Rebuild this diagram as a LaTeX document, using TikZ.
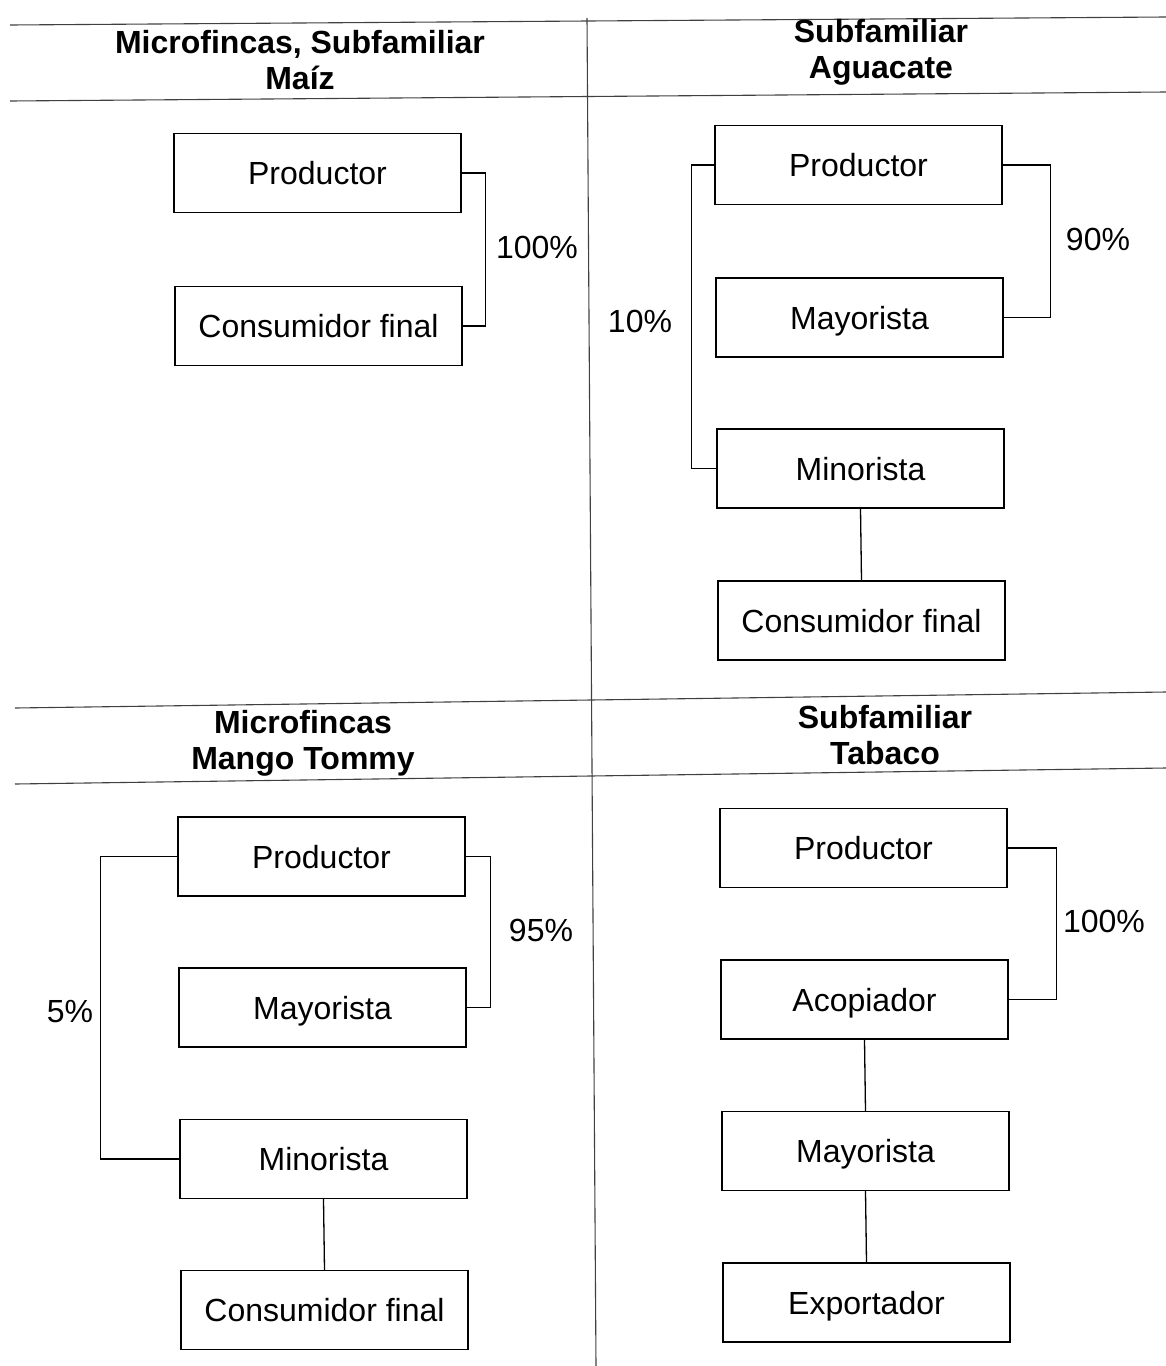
\documentclass[tikz,border=0pt]{standalone}
\usepackage{fontspec}
\setmainfont{Liberation Sans}
\begin{document}
\begin{tikzpicture}[x=1pt,y=-1pt,
  stagebox/.style={draw, line width=1.3pt, minimum width=287pt, minimum height=79pt, inner sep=0pt, text height=23pt, text depth=0pt, font=\fontsize{32}{36}\selectfont},
  titletext/.style={align=center, font=\bfseries\fontsize{32}{36}\selectfont},
  pct/.style={font=\fontsize{32}{36}\selectfont},
  link/.style={line width=1.3pt},
  rule/.style={line width=1.1pt, draw=black!75}]
\useasboundingbox (0,0) rectangle (1166,1366);
% rules
\coordinate (t1) at (10,25); \coordinate (t2) at (1166,17);
\coordinate (h1) at (10,101); \coordinate (h2) at (1166,92);
\coordinate (m1) at (15,708); \coordinate (m2) at (1166,692);
\coordinate (g1) at (15,784); \coordinate (g2) at (1166,768);
\coordinate (v1) at (587,18); \coordinate (v2) at (596,1366);
\draw[rule] (t1) -- (t2);
\draw[rule] (h1) -- (h2);
\draw[rule] (m1) -- (m2);
\draw[rule] (g1) -- (g2);
\draw[rule] (v1) -- (v2);
% titles
\node[titletext] (T1) at (300,60) {Microfincas, Subfamiliar\\Maíz};
\node[titletext] (T2) at (881,52) {Subfamiliar\\Aguacate};
\node[titletext] (T3) at (303,743) {Microfincas\\Mango Tommy};
\node[titletext] (T4) at (885,735) {Subfamiliar\\Tabaco};
% Q1
\node[stagebox] (p1) at (317.5,173) {Productor};
\node[stagebox] (c1) at (318.5,326) {Consumidor final};
\draw[link] (p1.east) -- ++(24,0) |- (c1.east);
\node[pct] (l1) at (537,247) {100\%};
% Q2
\node[stagebox] (p2) at (858.5,165) {Productor};
\node[stagebox] (y2) at (859.5,317.5) {Mayorista};
\node[stagebox] (n2) at (860.5,468.5) {Minorista};
\node[stagebox] (c2) at (861.5,620.5) {Consumidor final};
\draw[link] (p2.east) -- ++(48,0) |- (y2.east);
\draw[link] (p2.west) -- ++(-23,0) |- (n2.west);
\draw[link] (n2.south) -- (c2.north);
\node[pct] (l2) at (1098,239) {90\%};
\node[pct] (l3) at (640,321) {10\%};
% Q3
\node[stagebox] (p3) at (321.5,856.5) {Productor};
\node[stagebox] (y3) at (322.5,1007.5) {Mayorista};
\node[stagebox] (n3) at (323.5,1159) {Minorista};
\node[stagebox] (c3) at (324.5,1310) {Consumidor final};
\draw[link] (p3.east) -- ++(25,0) |- (y3.east);
\draw[link] (p3.west) -- ++(-77,0) |- (n3.west);
\draw[link] (n3.south) -- (c3.north);
\node[pct] (l4) at (541,930) {95\%};
\node[pct] (l5) at (70,1012) {5\%};
% Q4
\node[stagebox] (p4) at (863.5,848) {Productor};
\node[stagebox] (a4) at (864.5,999.5) {Acopiador};
\node[stagebox] (y4) at (865.5,1151) {Mayorista};
\node[stagebox] (e4) at (866.5,1302.5) {Exportador};
\draw[link] (p4.east) -- ++(49,0) |- (a4.east);
\draw[link] (a4.south) -- (y4.north);
\draw[link] (y4.south) -- (e4.north);
\node[pct] (l6) at (1104,921) {100\%};
\end{tikzpicture}
\end{document}
